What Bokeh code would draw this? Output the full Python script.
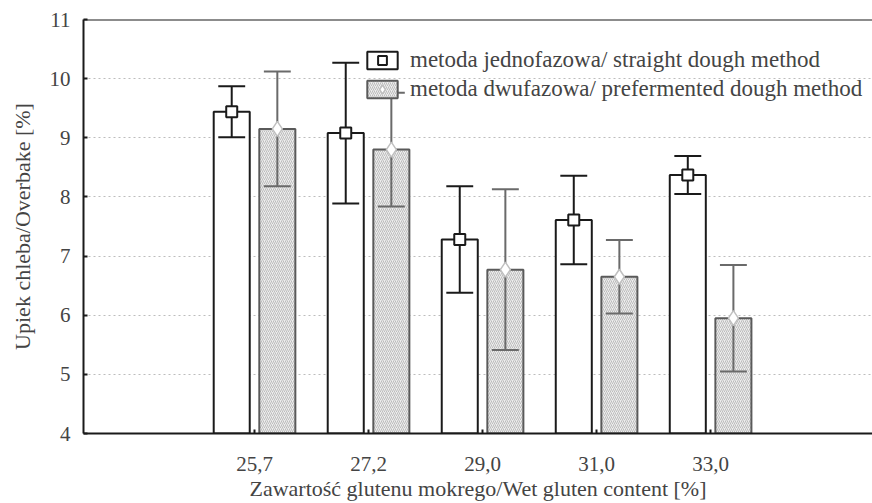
from bokeh.plotting import figure
from bokeh.models import (ColumnDataSource, FixedTicker, Span, Legend, LegendItem, Range1d)
from bokeh.embed import file_html
from bokeh.resources import INLINE

# ---- data ----
categories = ["25,7", "27,2", "29,0", "31,0", "33,0"]
positions = [1, 2, 3, 4, 5]
straight = [9.44, 9.08, 7.28, 7.61, 8.37]
straight_err = [0.43, 1.19, 0.90, 0.75, 0.32]
preferm = [9.15, 8.80, 6.77, 6.65, 5.95]
preferm_err = [0.97, 0.96, 1.36, 0.62, 0.90]
y_ticks = [4, 5, 6, 7, 8, 9, 10, 11]
label_straight = "metoda jednofazowa/ straight dough method"
label_preferm = "metoda dwufazowa/ prefermented dough method"

FONT = "Times New Roman"
OFF = 0.2
BAR_W = 0.316
CAP = 0.118


def make_source(vals, errs, off):
    xs = [p + off for p in positions]
    return ColumnDataSource(dict(
        x=xs, y=vals,
        up=[v + e for v, e in zip(vals, errs)],
        lo=[v - e for v, e in zip(vals, errs)],
        cl=[x - CAP for x in xs], cr=[x + CAP for x in xs]))


src_s = make_source(straight, straight_err, -OFF)
src_p = make_source(preferm, preferm_err, OFF)

p = figure(width=872, height=503, output_backend="svg", toolbar_location=None,
           x_range=Range1d(-0.5, 6.42), y_range=Range1d(4, 11),
           min_border_left=83, min_border_right=0, min_border_top=19, min_border_bottom=70)
p.outline_line_color = None

# bars
r_s = p.vbar(x="x", top="y", bottom=4, width=BAR_W, source=src_s,
             fill_color="white", line_color="#1a1a1a", line_width=2)
r_p = p.vbar(x="x", top="y", bottom=4, width=BAR_W, source=src_p,
             fill_color="#ededed", line_color="#5a5a5a", line_width=2,
             hatch_pattern="right_diagonal_line", hatch_color="#9a9a9a",
             hatch_scale=4, hatch_weight=0.6)

# error bars (stem + caps)
for src, col in ((src_s, "#1a1a1a"), (src_p, "#6a6a6a")):
    p.segment(x0="x", y0="lo", x1="x", y1="up", source=src, line_color=col, line_width=2)
    p.segment(x0="cl", y0="up", x1="cr", y1="up", source=src, line_color=col, line_width=2)
    p.segment(x0="cl", y0="lo", x1="cr", y1="lo", source=src, line_color=col, line_width=2)

# markers
m_s = p.scatter(x="x", y="y", source=src_s, marker="square", size=11,
                fill_color="white", line_color="#1a1a1a", line_width=2)
m_p = p.scatter(x="x", y="y", source=src_p, marker="diamond", size=15,
                fill_color="white", line_color="#c0c0c0", line_width=1.5)

# axes
xa = p.xaxis[0]
xa.ticker = FixedTicker(ticks=positions)
xa.major_label_overrides = {pos: c for pos, c in zip(positions, categories)}
xa.axis_label = "Zawartość glutenu mokrego/Wet gluten content [%]"
ya = p.yaxis[0]
ya.ticker = FixedTicker(ticks=y_ticks)
ya.axis_label = "Upiek chleba/Overbake [%]"
xa.major_label_text_font = FONT
ya.major_label_text_font = FONT
xa.axis_label_text_font = FONT
ya.axis_label_text_font = FONT

for ax in (xa, ya):
    ax.axis_line_color = "#1a1a1a"
    ax.axis_line_width = 2
    ax.major_tick_in = 4
    ax.major_tick_out = 0
    ax.minor_tick_line_color = None
    ax.major_tick_line_color = "#1a1a1a"
    ax.major_tick_line_width = 2
    ax.major_label_text_font_size = "21px"
    ax.axis_label_text_font_size = "22px"
    ax.axis_label_text_font_style = "normal"

xa.major_label_standoff = 23
xa.axis_label_standoff = 2
ya.major_label_standoff = 13
ya.axis_label_standoff = 12

# top border of the frame
p.add_layout(Span(location=11, dimension="width", line_color="#1a1a1a", line_width=2))

p.xgrid.visible = False
p.ygrid.ticker = FixedTicker(ticks=[5, 6, 7, 8, 9, 10])
p.ygrid.grid_line_color = "#bdbdbd"
p.ygrid.grid_line_dash = "2 3"
p.ygrid.grid_line_width = 1

legend = Legend(items=[LegendItem(label=label_straight, renderers=[r_s, m_s]),
                       LegendItem(label=label_preferm, renderers=[r_p, m_p])],
                location=(280, 331), padding=0, margin=0, spacing=3,
                glyph_width=38, glyph_height=22, label_height=22, label_standoff=9,
                label_text_font=FONT, label_text_font_size="23px",
                background_fill_alpha=0, border_line_color=None)
p.add_layout(legend, "center")

open("out.html", "w").write(file_html(p, INLINE))
